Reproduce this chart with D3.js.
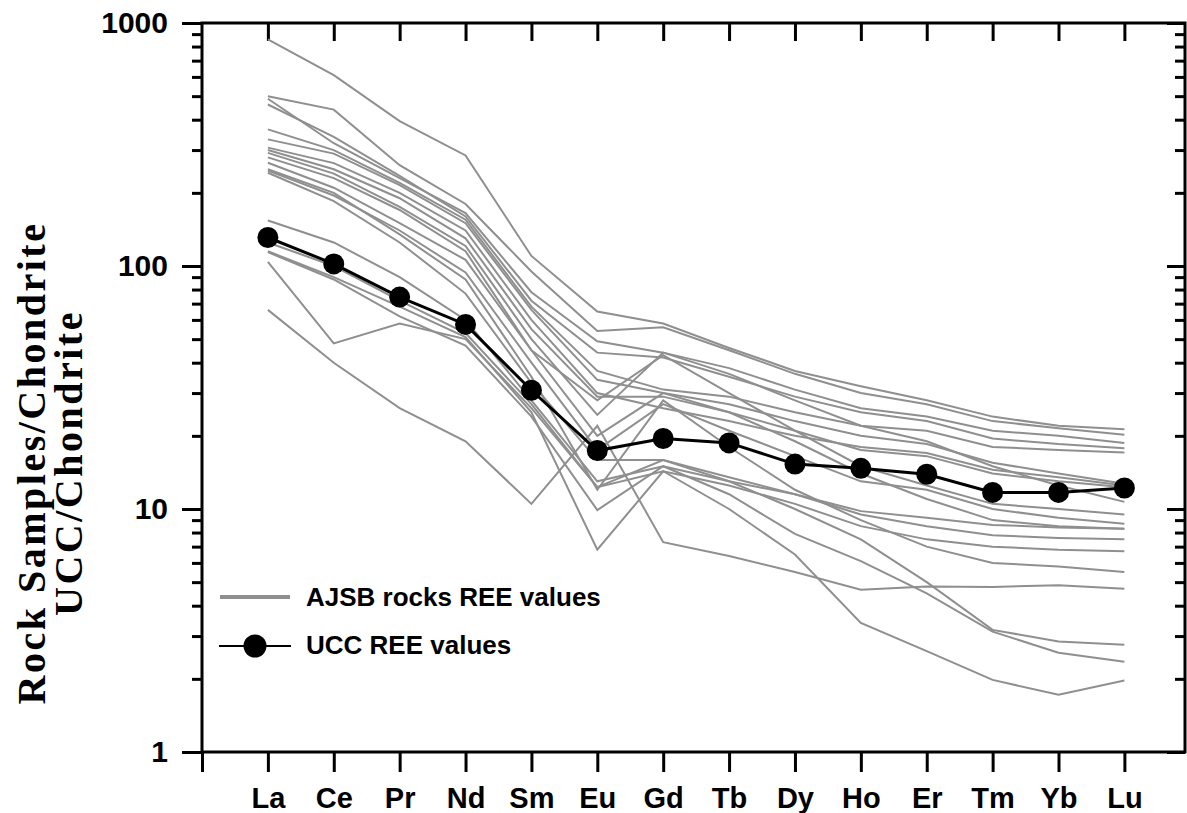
<!DOCTYPE html>
<html>
<head>
<meta charset="utf-8">
<script src="https://cdn.jsdelivr.net/npm/d3@7"></script>
<style>
body { margin: 0; background: #fff; }
</style>
</head>
<body>
<script>
// categories (x axis)
var elements = ["La", "Ce", "Pr", "Nd", "Sm", "Eu", "Gd", "Tb", "Dy", "Ho", "Er", "Tm", "Yb", "Lu"];

// UCC normalised to chondrite
var uccValues = [131, 102, 74.5, 57.5, 30.8, 17.4, 19.5, 18.7, 15.3, 14.7, 13.9, 11.7, 11.7, 12.2];

// AJSB rock samples normalised to chondrite, one row per sample
var ajsbSamples = [
    [856, 610, 395, 285, 110, 65, 58, 46, 37, 32, 28, 24, 22, 21.3],
    [500, 440, 260, 180, 95, 54, 56, 45, 36, 30, 27, 23, 21.5, 20.2],
    [488, 320, 230, 165, 78, 49, 44, 38, 31, 26, 24, 21, 20, 18.7],
    [462, 340, 235, 160, 72, 44, 42, 35, 29, 25, 23, 19.5, 18.5, 17.8],
    [365, 300, 220, 155, 68, 37, 31, 29, 25, 22, 21, 18, 17.5, 17.1],
    [332, 290, 215, 150, 66, 34, 30, 27, 23, 20, 18.5, 15.5, 14, 12.7],
    [307, 265, 200, 140, 60, 30, 26, 23, 20, 18, 17, 14.5, 13.5, 12.5],
    [300, 250, 190, 130, 55, 29, 29, 25, 21, 17.5, 16.5, 14, 13, 12.3],
    [292, 240, 175, 121, 50, 24.4, 44, 36, 28, 22, 19, 15, 12.5, 10.7],
    [280, 230, 170, 115, 45, 20, 30, 25, 19, 14, 11, 9, 8.5, 8.3],
    [266, 210, 150, 106, 45, 28, 43, 30, 21, 15, 12.5, 10.5, 10, 9.5],
    [250, 200, 135, 88, 35, 12, 28, 18, 12, 9, 7, 6, 5.8, 5.5],
    [247, 195, 140, 94, 40, 17.5, 27, 21, 16.5, 13, 12, 10, 9.2, 8.7],
    [242, 185, 125, 77, 33, 15.9, 15.9, 13.5, 11.5, 9.8, 9.2, 8.6, 8.4, 8.3],
    [154, 125, 90, 60, 28, 13, 15, 13, 11.5, 9.5, 8.5, 7.8, 7.6, 7.5],
    [125, 100, 72, 53, 27, 12.3, 14.3, 12.5, 10.5, 8.5, 7.5, 7, 6.8, 6.7],
    [115, 90, 68, 51, 25, 6.8, 14.3, 10, 6.5, 3.4, 2.6, 1.98, 1.72, 1.97],
    [114, 88, 62, 47, 24, 9.9, 15, 11.5, 7.9, 6.1, 4.5, 3.13, 2.56, 2.35],
    [104, 48, 58, 50, 26, 12.3, 15.9, 13, 10, 7.5, 5, 3.18, 2.85, 2.76],
    [66, 40, 26, 19, 10.5, 22, 7.3, 6.4, 5.5, 4.65, 4.8, 4.78, 4.85, 4.7]
];

// y ticks
var yMajorTicks = [1, 10, 100, 1000];
var yMinorTicks = [2, 3, 4, 5, 6, 7, 8, 9, 20, 30, 40, 50, 60, 70, 80, 90, 200, 300, 400, 500, 600, 700, 800, 900];

var legendLabels = ["AJSB rocks REE values", "UCC REE values"];
var titleLines = ["Rock Samples/Chondrite", "UCC/Chondrite"];

var width = 1187, height = 813;
var plot = {left: 202, top: 23, right: 1185, bottom: 752};

var svg = d3.select("body").append("svg")
    .attr("width", width)
    .attr("height", height);

var x = d3.scaleLinear().domain([0, 14.92]).range([plot.left, plot.right]);
var y = d3.scaleLog().domain([1, 1000]).range([plot.bottom, plot.top]);

var tickFont = "'Liberation Sans', Arial, sans-serif";

function styleAxis(g) {
    g.select(".domain").remove();
    g.selectAll("line").attr("stroke", "#000").attr("stroke-width", 3);
    g.selectAll("text").attr("fill", "#000")
        .style("font-family", tickFont)
        .style("font-weight", "bold");
}

// left axis, outward ticks
svg.append("g").attr("transform", "translate(" + plot.left + ",0)")
    .call(d3.axisLeft(y).tickValues(yMinorTicks).tickSize(10).tickFormat(""))
    .call(styleAxis);
svg.append("g").attr("transform", "translate(" + plot.left + ",0)")
    .call(d3.axisLeft(y).tickValues(yMajorTicks).tickSize(20).tickPadding(14).tickFormat(d3.format("d")))
    .call(styleAxis)
    .selectAll("text").style("font-size", "30px");

// right axis, inward ticks
svg.append("g").attr("transform", "translate(" + plot.right + ",0)")
    .call(d3.axisLeft(y).tickValues(yMinorTicks).tickSize(10).tickFormat(""))
    .call(styleAxis);
svg.append("g").attr("transform", "translate(" + plot.right + ",0)")
    .call(d3.axisLeft(y).tickValues(yMajorTicks).tickSize(18).tickFormat(""))
    .call(styleAxis);

// bottom axis
svg.append("g").attr("transform", "translate(0," + plot.bottom + ")")
    .call(d3.axisBottom(x).tickValues(d3.range(0, elements.length + 1)).tickSize(20).tickPadding(15)
        .tickFormat(function(d) { return d === 0 ? "" : elements[d - 1]; }))
    .call(styleAxis)
    .selectAll("text").style("font-size", "29px");

// top axis, inward ticks
svg.append("g").attr("transform", "translate(0," + plot.top + ")")
    .call(d3.axisBottom(x).tickValues(d3.range(1, elements.length + 1)).tickSize(18).tickFormat(""))
    .call(styleAxis);

// frame
svg.append("rect")
    .attr("x", plot.left).attr("y", plot.top)
    .attr("width", plot.right - plot.left)
    .attr("height", plot.bottom - plot.top)
    .attr("fill", "none").attr("stroke", "#000").attr("stroke-width", 3);

var line = d3.line()
    .x(function(d, i) { return x(i + 1); })
    .y(function(d) { return y(d); });

svg.append("g").selectAll("path")
    .data(ajsbSamples)
    .enter().append("path")
    .attr("d", line)
    .attr("fill", "none")
    .attr("stroke", "#8f8f8f")
    .attr("stroke-width", 2);

svg.append("path")
    .attr("d", line(uccValues))
    .attr("fill", "none")
    .attr("stroke", "#000")
    .attr("stroke-width", 3);

svg.append("g").selectAll("circle")
    .data(uccValues)
    .enter().append("circle")
    .attr("cx", function(d, i) { return x(i + 1); })
    .attr("cy", function(d) { return y(d); })
    .attr("r", 10.5)
    .attr("fill", "#000");

// legend
var legend = svg.append("g");
legend.append("line")
    .attr("x1", 220).attr("x2", 290).attr("y1", 597).attr("y2", 597)
    .attr("stroke", "#8f8f8f").attr("stroke-width", 4);
legend.append("line")
    .attr("x1", 219).attr("x2", 291).attr("y1", 646).attr("y2", 646)
    .attr("stroke", "#000").attr("stroke-width", 2);
legend.append("circle")
    .attr("cx", 255).attr("cy", 646).attr("r", 11.5).attr("fill", "#000");
legend.selectAll("text")
    .data(legendLabels)
    .enter().append("text")
    .attr("x", 306)
    .attr("y", function(d, i) { return 606 + i * 48; })
    .style("font-family", tickFont)
    .style("font-weight", "bold")
    .style("font-size", "26px")
    .text(function(d) { return d; });

// y title, two lines
var title = svg.append("text")
    .attr("transform", "translate(0,463) rotate(-90)")
    .attr("text-anchor", "middle")
    .style("font-family", "'Liberation Serif', 'Times New Roman', serif")
    .style("font-weight", "bold")
    .style("font-size", "40px")
    .style("letter-spacing", "2.5px");
title.selectAll("tspan")
    .data(titleLines)
    .enter().append("tspan")
    .attr("x", 0)
    .attr("y", function(d, i) { return 45 + i * 37; })
    .text(function(d) { return d; });
</script>
</body>
</html>
